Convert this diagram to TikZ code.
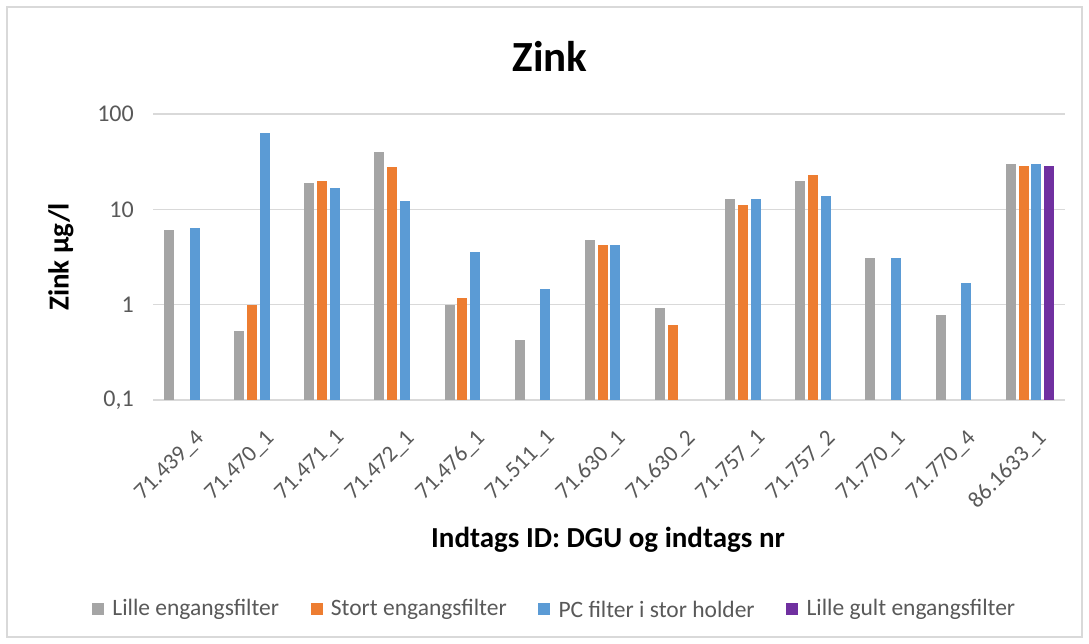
\documentclass[tikz,border=0pt]{standalone}
\usepackage{fontspec}
\setmainfont{Carlito}
\usetikzlibrary{positioning}

\definecolor{ser0}{HTML}{A5A5A5}
\definecolor{ser1}{HTML}{ED7D31}
\definecolor{ser2}{HTML}{5B9BD5}
\definecolor{ser3}{HTML}{7030A0}
\definecolor{gridgray}{HTML}{D9D9D9}
\definecolor{labelgray}{HTML}{595959}

\begin{document}
\begin{tikzpicture}[
    x=1pt, y=-1pt,
    grid/.style={draw=gridgray, line width=1.4pt},
    ticklabel/.style={anchor=east, inner sep=0pt, text=labelgray, font=\fontsize{24}{28}\selectfont},
    catlabel/.style={anchor=north east, rotate=45, inner sep=0pt, text=labelgray, font=\fontsize{23}{27}\selectfont},
    axistitle/.style={inner sep=0pt, font=\bfseries\fontsize{29}{34}\selectfont},
    legkey/.style={minimum size=12pt, inner sep=0pt},
    legtext/.style={inner sep=0pt, text=labelgray, font=\fontsize{23.5}{28}\selectfont}
]

    % Rahmen
    \useasboundingbox (0,0) rectangle (1089,644);
    \fill[white] (0,0) rectangle (1089,644);
    \draw[gridgray, line width=1.2pt] (7,7) rectangle (1082,637);

    % Titel
    \node[inner sep=0pt, font=\bfseries\fontsize{43}{50}\selectfont] (title) at (550,56) {Zink};

    % Gitterlinien (log-skala)
    \foreach \e/\lab in {0/{0,1}, 1/1, 2/10, 3/100} {
        \draw[grid] (153,{400-95.33*\e}) -- (1065,{400-95.33*\e});
        \node[ticklabel] (tick\e) at (134,{400-95.33*\e}) {\lab};
    }

    % Soejler: kategori/serie/vaerdi
    \foreach \c/\s/\v in {0/0/6.1, 0/2/6.4,
                          1/0/0.53, 1/1/1.0, 1/2/63,
                          2/0/18.9, 2/1/20, 2/2/17,
                          3/0/40.5, 3/1/28, 3/2/12.2,
                          4/0/1.0, 4/1/1.19, 4/2/3.6,
                          5/0/0.43, 5/2/1.47,
                          6/0/4.8, 6/1/4.23, 6/2/4.23,
                          7/0/0.92, 7/1/0.62,
                          8/0/12.9, 8/1/11.1, 8/2/12.9,
                          9/0/20, 9/1/23.3, 9/2/14,
                          10/0/3.09, 10/2/3.09,
                          11/0/0.79, 11/2/1.71,
                          12/0/29.9, 12/1/29, 12/2/29.9, 12/3/29} {
        \pgfmathsetmacro\xl{188.1+70.15*\c+(\s-1.5)*12.8-5}
        \pgfmathsetmacro\yt{305-95.33*log10(\v)}
        \fill[ser\s] (\xl,400) rectangle ({\xl+10},\yt);
    }

    % Kategorier
    \foreach \lab [count=\i from 0] in {71.439\_4, 71.470\_1, 71.471\_1, 71.472\_1, 71.476\_1,
                                        71.511\_1, 71.630\_1, 71.630\_2, 71.757\_1, 71.757\_2,
                                        71.770\_1, 71.770\_4, 86.1633\_1} {
        \node[catlabel] (cat\i) at ({188.1+70.15*\i+6},428) {\lab};
    }

    % Aksetitler
    \node[axistitle, rotate=90] (ytitle) at (61,257) {Zink µg/l};
    \node[axistitle, anchor=base] (xtitle) at (608,547) {Indtags ID: DGU og indtags nr};

    % Signaturforklaring
    \node[legkey, fill=ser0] (key0) at (98,609) {};
    \node[legtext, right=8pt of key0] (leg0) {Lille engangsfilter};
    \node[legkey, fill=ser1, right=31pt of leg0] (key1) {};
    \node[legtext, right=8pt of key1] (leg1) {Stort engangsfilter};
    \node[legkey, fill=ser2, right=31pt of leg1] (key2) {};
    \node[legtext, right=8pt of key2] (leg2) {PC filter i stor holder};
    \node[legkey, fill=ser3, right=31pt of leg2] (key3) {};
    \node[legtext, right=8pt of key3] (leg3) {Lille gult engangsfilter};

\end{tikzpicture}
\end{document}
